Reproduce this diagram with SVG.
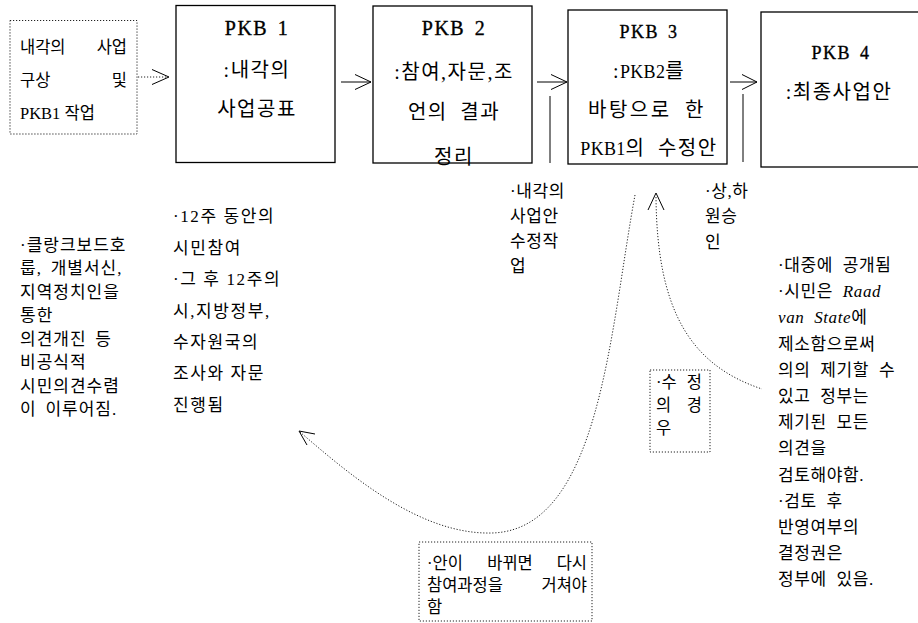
<svg xmlns="http://www.w3.org/2000/svg" width="918" height="623" viewBox="0 0 918 623">
<style>
.box{fill:#fff;stroke:#000;stroke-width:1.3}
.dbox{fill:none;stroke:#222;stroke-width:1;stroke-dasharray:1.2 1.8}
.ln{fill:none;stroke:#000;stroke-width:1}
.dl{fill:none;stroke:#222;stroke-width:1;stroke-dasharray:1.2 1.8}
.t{font-family:"Liberation Serif","Noto Sans CJK KR",serif;fill:#000}
.title{font-family:"Liberation Serif",serif;font-size:20px;letter-spacing:1.5px;word-spacing:3px;text-anchor:middle;fill:#000;stroke:#000;stroke-width:0.35}
.bt{font-family:"Liberation Serif","Noto Sans CJK KR",serif;font-size:20px;letter-spacing:1.5px;word-spacing:6px;text-anchor:middle;fill:#000}
.lat{font-size:18px;letter-spacing:0.3px}
.s{font-size:16.5px}
.b{font-size:17px;letter-spacing:0.6px;word-spacing:5px}
.l{font-size:17px;letter-spacing:1px;word-spacing:3.5px}
.c{font-size:17px;letter-spacing:1.6px;word-spacing:0px}
</style>
<rect width="918" height="623" fill="#fff"/>

<g id="start">
<rect class="dbox" x="10" y="20.5" width="127" height="113.5"/>
<text class="t s" x="20" y="53">내각의</text>
<text class="t s" x="127" y="53" text-anchor="end">사업</text>
<text class="t s" x="20" y="86">구상</text>
<text class="t s" x="127" y="86" text-anchor="end">및</text>
<text class="t s" x="20" y="119">PKB1 작업</text>
</g>

<g id="pkb1">
<rect class="box" x="176" y="5.5" width="159" height="157"/>
<text class="title" x="257" y="35">PKB 1</text>
<text class="bt" x="257" y="77">:내각의</text>
<text class="bt" x="257" y="116">사업공표</text>
</g>

<g id="pkb2">
<rect class="box" x="373" y="6" width="159" height="157"/>
<text class="title" x="454" y="35">PKB 2</text>
<text class="bt" x="454" y="79">:참여,자문,조</text>
<text class="bt" x="454" y="119">언의 결과</text>
<text class="bt" x="454" y="164">정리</text>
</g>

<g id="pkb3">
<rect class="box" x="568" y="10" width="159" height="154"/>
<text class="title" x="649" y="38" style="font-size:18px">PKB 3</text>
<text class="bt" x="649" y="78">:<tspan class="lat">PKB2</tspan>를</text>
<text class="bt" x="647" y="117" style="letter-spacing:2.5px">바탕으로 한</text>
<text class="bt" x="649" y="155"><tspan class="lat">PKB1</tspan>의 수정안</text>
</g>

<g id="pkb4">
<rect class="box" x="761" y="12" width="160" height="155"/>
<text class="title" x="841" y="59" style="font-size:18px">PKB 4</text>
<text class="bt" x="839" y="99">:최종사업안</text>
</g>

<g id="connectors">
<path class="dl" d="M138,77 H168"/>
<path class="ln" d="M152,69.5 L169,77 L152,84.5"/>
<path class="ln" d="M341,82 H371 M355,74.5 L371,82 L355,89.5"/>
<path class="ln" d="M537,82 H567 M551,74.5 L567,82 L551,89.5 M550,96 V163"/>
<path class="ln" d="M730,82 H757 M742,74.5 L757,82 L742,89.5 M743,94 V162"/>
<path class="dl" d="M635,195 C610,330 600,530 492,533 C420,535 350,475 300,432"/>
<path class="ln" d="M315,434 L299,431 L307,445"/>
<path class="dl" d="M656,197 C657,310 690,365 762,389"/>
<path class="ln" d="M648,210 L656,193 L664,210"/>
</g>

<g id="note-mid1">
<text class="t b" x="510" y="197">·내각의</text>
<text class="t b" x="510" y="222">사업안</text>
<text class="t b" x="510" y="247">수정작</text>
<text class="t b" x="510" y="272">업</text>
</g>

<g id="note-mid2">
<text class="t b" x="705" y="197">·상,하</text>
<text class="t b" x="705" y="222">원승</text>
<text class="t b" x="705" y="248">인</text>
</g>

<g id="note-left">
<text class="t l" x="20" y="251">·클랑크보드호</text>
<text class="t l" x="20" y="274">룹, 개별서신,</text>
<text class="t l" x="20" y="298">지역정치인을</text>
<text class="t l" x="20" y="321">통한</text>
<text class="t l" x="20" y="345">의견개진 등</text>
<text class="t l" x="20" y="368">비공식적</text>
<text class="t l" x="20" y="392">시민의견수렴</text>
<text class="t l" x="20" y="415">이 이루어짐.</text>
</g>

<g id="note-center">
<text class="t c" x="173" y="222">·12주 동안의</text>
<text class="t c" x="173" y="254">시민참여</text>
<text class="t c" x="173" y="285">·그 후 12주의</text>
<text class="t c" x="173" y="317">시,지방정부,</text>
<text class="t c" x="173" y="348">수자원국의</text>
<text class="t c" x="173" y="379">조사와 자문</text>
<text class="t c" x="173" y="411">진행됨</text>
</g>

<g id="note-right">
<text class="t b" x="778" y="271">·대중에 공개됨</text>
<text class="t b" x="778" y="297">·시민은 <tspan font-style="italic">Raad</tspan></text>
<text class="t b" x="778" y="323"><tspan font-style="italic">van State</tspan>에</text>
<text class="t b" x="778" y="350">제소함으로써</text>
<text class="t b" x="778" y="376">의의 제기할 수</text>
<text class="t b" x="778" y="402">있고 정부는</text>
<text class="t b" x="778" y="428">제기된 모든</text>
<text class="t b" x="778" y="454">의견을</text>
<text class="t b" x="778" y="481">검토해야함.</text>
<text class="t b" x="778" y="507">·검토 후</text>
<text class="t b" x="778" y="533">반영여부의</text>
<text class="t b" x="778" y="559">결정권은</text>
<text class="t b" x="778" y="585">정부에 있음.</text>
</g>

<g id="note-revision">
<rect class="dbox" x="650" y="370" width="60" height="82"/>
<text class="t s" x="656" y="388">·수</text>
<text class="t s" x="702" y="388" text-anchor="end">정</text>
<text class="t s" x="656" y="411">의</text>
<text class="t s" x="702" y="411" text-anchor="end">경</text>
<text class="t s" x="656" y="434">우</text>
</g>

<g id="note-bottom">
<rect class="dbox" x="419" y="542" width="173" height="79"/>
<text class="t s" x="427" y="569">·안이</text>
<text class="t s" x="510" y="569" text-anchor="middle">바뀌면</text>
<text class="t s" x="587" y="569" text-anchor="end">다시</text>
<text class="t s" x="427" y="591">참여과정을</text>
<text class="t s" x="587" y="591" text-anchor="end">거쳐야</text>
<text class="t s" x="427" y="613">함</text>
</g>
</svg>
